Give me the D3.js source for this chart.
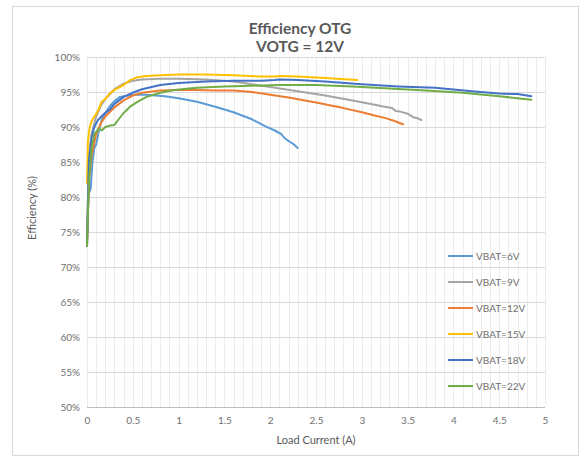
<!DOCTYPE html>
<html><head><meta charset="utf-8">
<script src="https://cdn.jsdelivr.net/npm/d3@7"></script>
<style>
body{margin:0;background:#fff;}
svg{display:block;font-family:Lato, "Open Sans", sans-serif;}
</style></head><body>
<svg id="c" width="585" height="461"></svg>
<script>
const titleLines = ["Efficiency OTG", "VOTG = 12V"];
const xTicks = [0, 0.5, 1, 1.5, 2, 2.5, 3, 3.5, 4, 4.5, 5];
const yTicks = [50, 55, 60, 65, 70, 75, 80, 85, 90, 95, 100];
const seriesNames = ["VBAT=6V", "VBAT=9V", "VBAT=12V", "VBAT=15V", "VBAT=18V", "VBAT=22V"];
const seriesColors = ["#5B9BD5", "#A5A5A5", "#ED7D31", "#FFC000", "#4472C4", "#70AD47"];

const x6 = [0, 0.01, 0.02, 0.04, 0.06, 0.08, 0.1, 0.13, 0.16, 0.2, 0.25, 0.3, 0.36, 0.45, 0.55, 0.65, 0.75, 0.85, 1.0, 1.2, 1.4, 1.6, 1.8, 1.95, 2.05, 2.12, 2.15, 2.2, 2.25, 2.3];
const y6 = [73, 78, 80.5, 81.2, 85, 87, 87.5, 89.5, 91, 92, 93, 93.7, 94.3, 94.5, 94.6, 94.6, 94.5, 94.4, 94.1, 93.6, 92.9, 92.1, 91.1, 90.1, 89.5, 89.0, 88.5, 88.0, 87.6, 87.0];

const x9 = [0, 0.02, 0.05, 0.1, 0.15, 0.2, 0.3, 0.4, 0.5, 0.6, 0.8, 1.0, 1.3, 1.6, 1.8, 2.0, 2.3, 2.6, 2.9, 3.1, 3.25, 3.33, 3.37, 3.42, 3.5, 3.56, 3.6, 3.65];
const y9 = [74, 86, 89, 91.5, 93, 94, 95.4, 96.2, 96.6, 96.8, 96.9, 96.9, 96.8, 96.5, 96.1, 95.7, 95.1, 94.5, 93.8, 93.3, 92.9, 92.7, 92.3, 92.2, 91.9, 91.4, 91.3, 91.0];

const x12 = [0, 0.02, 0.05, 0.1, 0.15, 0.2, 0.3, 0.4, 0.5, 0.6, 0.8, 1.0, 1.2, 1.4, 1.6, 1.8, 2.0, 2.2, 2.5, 2.8, 3.0, 3.15, 3.25, 3.35, 3.45];
const y12 = [73, 82, 86, 89, 90.5, 91.5, 92.8, 93.8, 94.5, 94.9, 95.2, 95.3, 95.3, 95.2, 95.2, 95.0, 94.6, 94.2, 93.5, 92.7, 92.1, 91.6, 91.3, 90.9, 90.4];

const x15 = [0, 0.01, 0.03, 0.05, 0.08, 0.12, 0.16, 0.2, 0.25, 0.3, 0.4, 0.47, 0.55, 0.65, 0.8, 1.0, 1.3, 1.6, 1.9, 2.05, 2.1, 2.3, 2.6, 2.95];
const y15 = [82, 88, 90, 90.8, 91.5, 92.3, 93.6, 94.0, 94.8, 95.3, 96.0, 96.7, 97.1, 97.3, 97.4, 97.5, 97.5, 97.4, 97.2, 97.2, 97.3, 97.2, 97.0, 96.7];

const x18 = [0, 0.02, 0.05, 0.08, 0.12, 0.18, 0.25, 0.3, 0.4, 0.5, 0.6, 0.8, 1.0, 1.3, 1.6, 1.9, 2.05, 2.1, 2.3, 2.6, 3.0, 3.4, 3.8, 4.2, 4.5, 4.65, 4.7, 4.85];
const y18 = [73, 85, 88.5, 90, 91, 91.8, 92.5, 93.3, 94.3, 94.9, 95.4, 96.0, 96.3, 96.5, 96.6, 96.6, 96.7, 96.8, 96.7, 96.5, 96.1, 95.8, 95.6, 95.1, 94.8, 94.7, 94.7, 94.4];

const x22 = [0, 0.02, 0.05, 0.08, 0.1, 0.13, 0.16, 0.2, 0.25, 0.3, 0.34, 0.4, 0.47, 0.55, 0.65, 0.8, 0.95, 1.2, 1.5, 1.8, 2.1, 2.5, 2.9, 3.3, 3.7, 4.1, 4.5, 4.85];
const y22 = [73, 82, 87, 89, 89.3, 89.8, 89.5, 90.0, 90.2, 90.3, 91.0, 92.0, 92.9, 93.6, 94.3, 94.9, 95.3, 95.6, 95.8, 95.9, 96.0, 96.0, 95.8, 95.5, 95.2, 94.9, 94.4, 93.9];

const seriesX = [x6, x9, x12, x15, x18, x22];
const seriesY = [y6, y9, y12, y15, y18, y22];

const svg = d3.select("#c");
const L = 87, R = 545, T = 57, B = 407;
const x = d3.scaleLinear().domain([0, 5]).range([L, R]);
const y = d3.scaleLinear().domain([50, 100]).range([B, T]);
const textCol = "#595959";
const tickCol = "#6f6f6f";

svg.append("rect").attr("x", 12.5).attr("y", 6.5).attr("width", 566).attr("height", 449)
  .attr("fill", "#fff").attr("stroke", "#d9d9d9");

// minor vertical gridlines
const minor = d3.range(0, 51).map(i => i / 10);
svg.append("g").selectAll("line").data(minor).join("line")
  .attr("x1", d => Math.round(x(d)) + 0.5).attr("x2", d => Math.round(x(d)) + 0.5)
  .attr("y1", T).attr("y2", B)
  .attr("stroke", "#ececec").attr("stroke-width", 1);

// horizontal gridlines
svg.append("g").selectAll("line").data(yTicks).join("line")
  .attr("x1", L).attr("x2", R)
  .attr("y1", d => Math.round(y(d)) + 0.5).attr("y2", d => Math.round(y(d)) + 0.5)
  .attr("stroke", d => d === 50 ? "#bfbfbf" : "#d9d9d9").attr("stroke-width", 1);

const yAxis = svg.append("g").attr("transform", `translate(${L - 7},0)`)
  .call(d3.axisLeft(y).tickValues(yTicks).tickSize(0).tickPadding(0).tickFormat(d => d + "%"));
yAxis.select(".domain").remove();
yAxis.selectAll("text").attr("fill", tickCol).style("font-size", "10px").style("font-family", "Lato");

const xAxis = svg.append("g").attr("transform", `translate(0,${B + 10})`)
  .call(d3.axisBottom(x).tickValues(xTicks).tickSize(0).tickPadding(0).tickFormat(d => String(d)));
xAxis.select(".domain").remove();
xAxis.selectAll("text").attr("fill", tickCol).style("font-size", "10px").style("font-family", "Lato");

const line = d3.line().x(d => x(d[0])).y(d => y(d[1]));
seriesNames.forEach((name, i) => {
  const pts = seriesX[i].map((v, k) => [v, seriesY[i][k]]);
  svg.append("path").datum(pts).attr("d", line)
    .attr("fill", "none").attr("stroke", seriesColors[i]).attr("stroke-width", 2)
    .attr("stroke-linejoin", "round").attr("stroke-linecap", "round");
});

svg.append("text").attr("x", 300).attr("y", 34).attr("text-anchor", "middle")
  .attr("fill", textCol).style("font-size", "15.5px").style("font-weight", "bold").text(titleLines[0]);
svg.append("text").attr("x", 300).attr("y", 52).attr("text-anchor", "middle")
  .attr("fill", textCol).style("font-size", "15.5px").style("font-weight", "bold").text(titleLines[1]);

svg.append("text").attr("x", 316).attr("y", 444).attr("text-anchor", "middle")
  .attr("fill", textCol).style("font-size", "11px").text("Load Current (A)");
svg.append("text").attr("transform", "translate(36,208) rotate(-90)").attr("text-anchor", "middle")
  .attr("fill", textCol).style("font-size", "11px").text("Efficiency (%)");

const legY = [256, 282, 308, 334, 360, 386];
const lg = svg.append("g");
seriesNames.forEach((name, i) => {
  lg.append("line").attr("x1", 448).attr("x2", 473).attr("y1", legY[i]).attr("y2", legY[i])
    .attr("stroke", seriesColors[i]).attr("stroke-width", 2);
  lg.append("text").attr("x", 476).attr("y", legY[i]).attr("dy", "0.35em")
    .attr("fill", tickCol).style("font-size", "10px").text(name);
});
</script>
</body></html>
